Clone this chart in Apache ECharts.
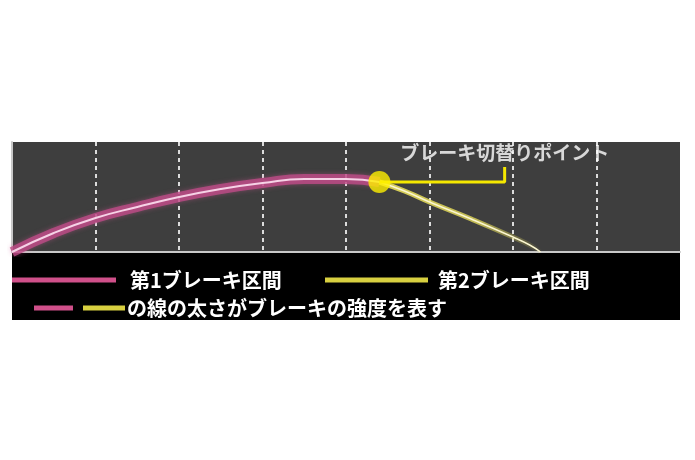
<!DOCTYPE html>
<html>
<head>
<meta charset="utf-8">
<script src="https://cdn.jsdelivr.net/npm/echarts@6/dist/echarts.min.js"></script>
<style>
  html,body{margin:0;padding:0;background:#fff;}
  #main{width:695px;height:460px;}
</style>
</head>
<body>
<div id="main"></div>
<script>
// 第1ブレーキ区間（ピンク）
let stage1X=[0,0.5,1,1.5,2,2.5,3,3.5,4,4.4]
let stage1Y=[0,19,34,45,55,63,69,73,73,70]
// 第2ブレーキ区間（イエロー）
let stage2X=[4.4,4.7,5,5.5,6,6.2,6.33]
let stage2Y=[70,61,50,33,15,7,0]
// 切替りポイント
let switchPoint=[4.4,70]
let calloutX=[4.4,5.9,5.9]
let calloutY=[70,70,85]
let calloutLabel='ブレーキ切替りポイント'
let legendNames=['第1ブレーキ区間','第2ブレーキ区間']
let noteText='の線の太さがブレーキの強度を表す'

let pink='#d0508a'
let yellow='#d8d040'

function pairs(xs,ys){
  return xs.map((x,i)=>[x,ys[i]])
}

var myChart=echarts.init(document.getElementById('main'))

let jpFont='"Noto Sans CJK JP", sans-serif'

option={
  animation:false,
  backgroundColor:'#fff',
  grid:{left:12,right:15,top:142,bottom:208,
    show:true,backgroundColor:'#3e3e3e',borderWidth:0},
  xAxis:{
    type:'value',min:0,max:8,interval:1,
    axisLine:{show:true,lineStyle:{color:'#c8c8c8',width:2}},
    axisTick:{show:false},axisLabel:{show:false},
    splitLine:{show:true,showMinLine:false,showMaxLine:false,
      lineStyle:{color:'#dcdcdc',width:2,type:[4,4]}}
  },
  yAxis:{
    type:'value',min:0,max:110,
    axisLine:{show:true,lineStyle:{color:'#c8c8c8',width:2}},
    axisTick:{show:false},axisLabel:{show:false},splitLine:{show:false}
  },
  series:[
    {
      name:legendNames[0]+'_band',type:'line',smooth:true,showSymbol:false,
      data:pairs(stage1X,stage1Y),
      lineStyle:{color:'rgba(190,75,135,0.8)',width:10,shadowColor:'rgba(210,90,150,0.5)',shadowBlur:5},
      z:2
    },
    {
      name:legendNames[0],type:'line',smooth:true,showSymbol:false,
      data:pairs(stage1X,stage1Y),
      lineStyle:{color:'#f6d2e6',width:2},
      z:3
    },
    {
      name:legendNames[1]+'_band',type:'line',smooth:true,showSymbol:false,
      data:pairs(stage2X,stage2Y),
      lineStyle:{width:5,
        color:new echarts.graphic.LinearGradient(0,0,1,0,[
          {offset:0,color:'rgba(235,225,90,0.9)'},
          {offset:0.6,color:'rgba(235,225,90,0.75)'},
          {offset:1,color:'rgba(235,225,90,0)'}
        ])},
      z:2
    },
    {
      name:legendNames[1],type:'line',smooth:true,showSymbol:false,
      data:pairs(stage2X,stage2Y),
      lineStyle:{color:'#fbf6d0',width:1.5},
      z:3
    },
    {
      name:'callout',type:'line',showSymbol:false,
      data:pairs(calloutX,calloutY),
      lineStyle:{color:'#f5e800',width:3},
      z:4
    },
    {
      name:'switch',type:'scatter',
      data:[switchPoint],symbolSize:22,
      itemStyle:{color:'#fff000'},
      z:5
    },
    {
      name:'calloutLabel',type:'scatter',symbolSize:0,
      data:[[calloutX[2],99]],
      itemStyle:{color:'#fff'},
      label:{show:true,position:'inside',formatter:calloutLabel,
        color:'#fff',textBorderWidth:0,fontSize:19,fontWeight:'bold',fontFamily:jpFont},
      z:5
    }
  ],
  graphic:[
    {type:'rect',shape:{x:12,y:253,width:668,height:67},style:{fill:'#000'},z:-1},
    {type:'line',shape:{x1:12,y1:280,x2:116,y2:280},style:{stroke:pink,lineWidth:5}},
    {type:'text',x:130,y:280,style:{text:legendNames[0],fill:'#fff',font:'bold 20px '+jpFont,textVerticalAlign:'middle'}},
    {type:'line',shape:{x1:325,y1:280,x2:428,y2:280},style:{stroke:yellow,lineWidth:5}},
    {type:'text',x:438,y:280,style:{text:legendNames[1],fill:'#fff',font:'bold 20px '+jpFont,textVerticalAlign:'middle'}},
    {type:'line',shape:{x1:34,y1:308,x2:73,y2:308},style:{stroke:pink,lineWidth:5}},
    {type:'line',shape:{x1:83,y1:308,x2:125,y2:308},style:{stroke:yellow,lineWidth:5}},
    {type:'text',x:127,y:308,style:{text:noteText,fill:'#fff',font:'bold 20px '+jpFont,textVerticalAlign:'middle'}}
  ]
}

myChart.setOption(option)
</script>
</body>
</html>
